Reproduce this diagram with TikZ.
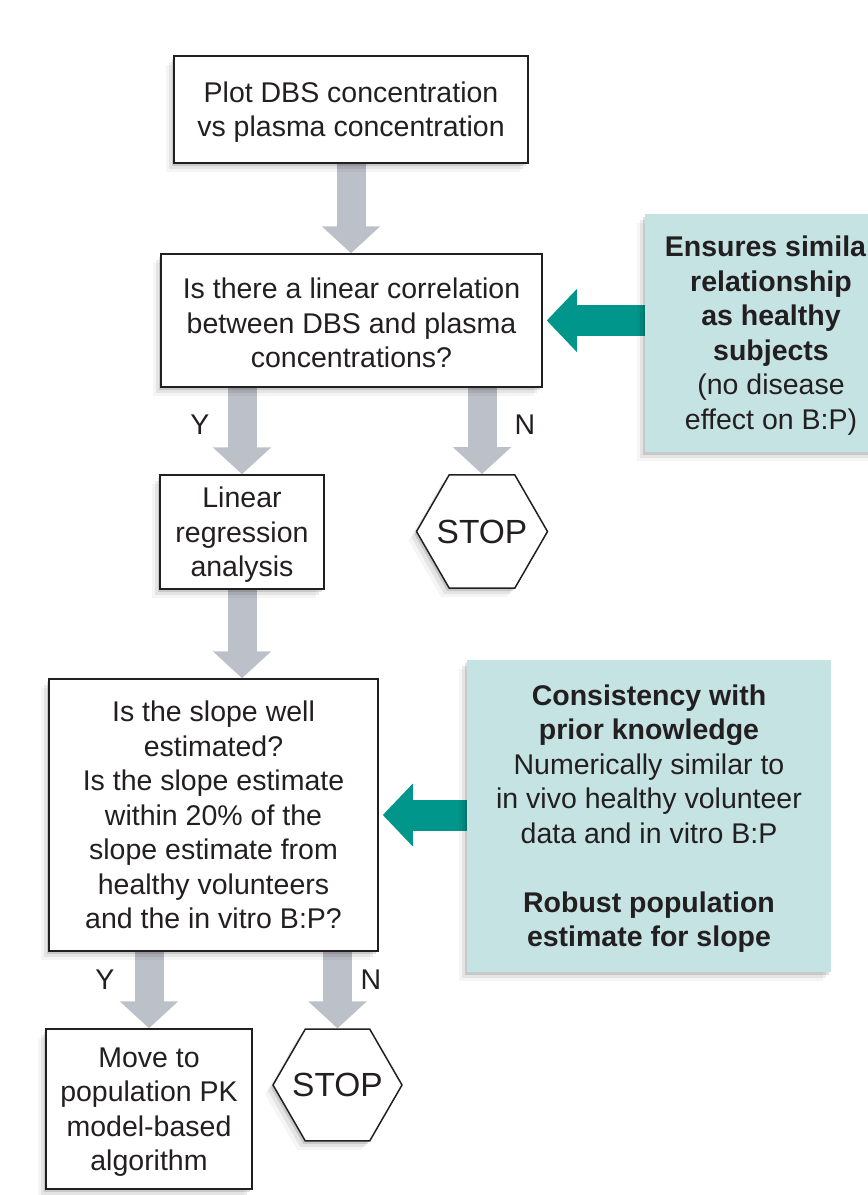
\documentclass[tikz,border=0pt]{standalone}
\usepackage{fontspec}
\setmainfont{Liberation Sans}
\usetikzlibrary{shapes.geometric,arrows.meta,shadows}
\definecolor{ink}{HTML}{231F20}
\definecolor{greyarrow}{HTML}{BCC0C8}
\definecolor{tealc}{HTML}{00968C}
\definecolor{tealfill}{HTML}{C5E3E3}
\newcommand\toppad{\rule{0pt}{26pt}}
\pgfdeclarelayer{bg}
\pgfsetlayers{bg,main}
\begin{document}
\begin{tikzpicture}[x=1pt,y=-1pt,
  every node/.style={font=\fontsize{28.5}{34.5}\selectfont, text=ink, inner sep=0pt},
  soft/.style={
    drop shadow={shadow xshift=-2pt,shadow yshift=-3pt,opacity=.12,fill=black},
    drop shadow={shadow xshift=-5pt,shadow yshift=-6pt,opacity=.07,fill=black},
    drop shadow={shadow xshift=-8pt,shadow yshift=-9pt,opacity=.04,fill=black}},
  stepbox/.style={draw=ink, line width=1.5pt, fill=white, align=center, soft},
  hexbox/.style={draw=ink, line width=1.5pt, fill=white, regular polygon, regular polygon sides=6, soft,
    font=\fontsize{33.5}{40}\selectfont},
  notebox/.style={fill=tealfill, align=center, soft},
  greyarr/.style={line width=29pt, draw=greyarrow, -{Triangle[width=57pt,length=27pt]}},
  tealarr/.style={line width=31pt, draw=tealc, -{Triangle[width=61pt,length=30pt]}, shorten >=4pt},
  yn/.style={}
]
\useasboundingbox (0,0) rectangle (868,1195);
\clip (0,0) rectangle (868,1195);

\node[stepbox, minimum width=354pt, minimum height=107pt] (b1) at (351,109.5)
  {\toppad Plot DBS concentration\\vs plasma concentration};
\node[stepbox, minimum width=381pt, minimum height=133pt] (b2) at (351.5,320.5)
  {\toppad Is there a linear correlation\\between DBS and plasma\\concentrations?};
\node[stepbox, minimum width=164pt, minimum height=114pt] (b3) at (242,532)
  {\toppad Linear\\regression\\analysis};
\node[hexbox, minimum size=131pt] (h1) at (482,531.5) {\makebox[0pt][c]{STOP}};
\node[stepbox, minimum width=329pt, minimum height=272pt] (b4) at (213.5,815)
  {Is the slope well\\estimated?\\Is the slope estimate\\within 20\% of the\\slope estimate from\\healthy volunteers\\and the in vitro B:P?};
\node[stepbox, minimum width=206pt, minimum height=160pt] (b5) at (149,1109)
  {\toppad Move to\\population PK\\model-based\\algorithm};
\node[hexbox, minimum size=129pt] (h2) at (337.5,1085) {\makebox[0pt][c]{STOP}};

\node[notebox, minimum width=252pt, minimum height=238pt] (t1) at (771,333)
  {\toppad\textbf{Ensures similar}\\\textbf{relationship}\\\textbf{as healthy}\\\textbf{subjects}\\(no disease\\effect on B:P)};
\node[notebox, minimum width=364pt, minimum height=312pt] (t2) at (649,816)
  {\toppad\textbf{Consistency with}\\\textbf{prior knowledge}\\Numerically similar to\\in vivo healthy volunteer\\data and in vitro B:P\\[34.5pt]\textbf{Robust population}\\\textbf{estimate for slope}};

\node[yn] (y1) at (200,425) {Y};
\node[yn] (n1) at (525,425) {N};
\node[yn] (y2) at (105,980) {Y};
\node[yn] (n2) at (371,980) {N};

\begin{pgfonlayer}{bg}
\draw[greyarr] (b1.south) -- (b1.south |- b2.north);
\draw[greyarr] (b3.north |- b2.south) -- (b3.north);
\draw[greyarr] (h1.north |- b2.south) -- (h1.north);
\draw[greyarr] (b3.south) -- (b3.south |- b4.north);
\draw[greyarr] (b5.north |- b4.south) -- (b5.north);
\draw[greyarr] (h2.north |- b4.south) -- (h2.north);
\draw[tealarr] (t1.west |- b2.east) -- (b2.east);
\draw[tealarr] (t2.west |- b4.east) -- (b4.east);
\end{pgfonlayer}
\end{tikzpicture}
\end{document}
